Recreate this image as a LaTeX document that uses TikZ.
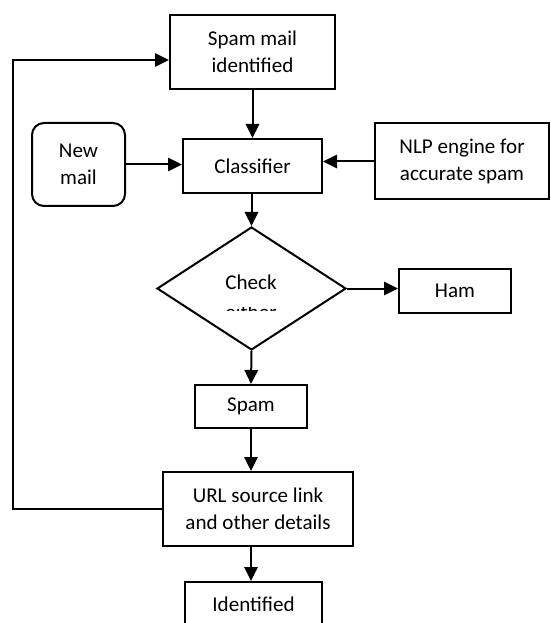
\documentclass[tikz,border=0pt]{standalone}
\usepackage{fontspec}
\setmainfont{Carlito}
\usetikzlibrary{shapes.geometric,arrows.meta}
\tikzset{
  box/.style={draw, line width=1.5pt, rectangle, inner sep=2pt, align=center, font=\fontsize{15.8}{20.25}\selectfont},
  rbox/.style={box, rounded corners=9pt},
  dia/.style={draw, line width=1.5pt, diamond, inner sep=0pt},
  arr/.style={line width=1.5pt, -{Triangle[length=10.5pt,width=10pt]}},
  txt/.style={font=\fontsize{15.8}{20.25}\selectfont, inner sep=0pt}
}
\begin{document}
\begin{tikzpicture}[x=0.75pt,y=-0.75pt]
\clip (0,0) rectangle (550,623);
\fill[white] (0,0) rectangle (550,623);
\node[box, minimum width=123.75pt, minimum height=55.5pt] (smi) at (252.5,52) {Spam mail\\identified};
\node[box, minimum width=104.25pt, minimum height=40.5pt] (cls) at (252.5,166) {Classifier};
\node[rbox, minimum width=69.75pt, minimum height=62.25pt] (new) at (78.5,164.5) {New\\mail};
\node[box, minimum width=130.5pt, minimum height=57pt] (nlp) at (462,161.5) {NLP engine for\\accurate spam};
\node[dia, minimum width=141.75pt, minimum height=92.25pt] (chk) at (251.5,288.5) {};
\node[txt, anchor=base] (chkt) at (251,289) {Check};
\begin{scope}
\clip (150,307.5) rectangle (350,310.5);
\node[txt, anchor=base] (chke) at (251,319) {either};
\end{scope}
\node[box, minimum width=84pt, minimum height=33pt] (ham) at (455,291) {Ham};
\node[box, minimum width=84pt, minimum height=32.25pt] (spam) at (251,406.5) {Spam};
\node[box, minimum width=142.5pt, minimum height=55.5pt] (url) at (258,509) {URL source link\\and other details};
\node[box, minimum width=102.75pt, minimum height=33pt] (idf) at (253.5,604) {Identified};
\coordinate (lp) at (13,509);
\draw[arr] (smi.south) -- (cls.north);
\draw[arr] (new.east) -- (new.east -| cls.west);
\draw[arr] (nlp.west) -- (nlp.west -| cls.east);
\draw[arr] (chk.north |- cls.south) -- (chk.north);
\draw[arr] (chk.east) -- (chk.east -| ham.west);
\draw[arr] (chk.south) -- (spam.north);
\draw[arr] (spam.south) -- (spam.south |- url.north);
\draw[arr] (spam.south |- url.south) -- (spam.south |- idf.north);
\draw[arr] (url.west) -- (lp) |- ([yshift=-6pt]smi.west);
\end{tikzpicture}
\end{document}
